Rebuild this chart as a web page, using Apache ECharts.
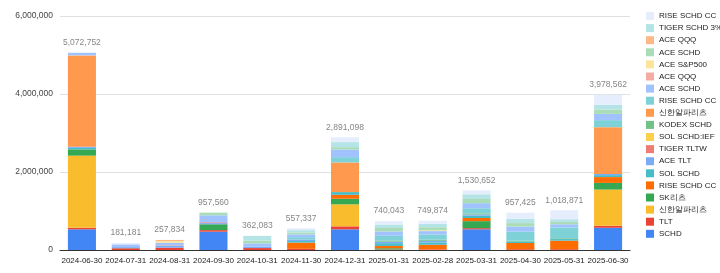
<!DOCTYPE html>
<html>
<head>
<meta charset="utf-8">
<script src="https://cdn.jsdelivr.net/npm/echarts@6/dist/echarts.min.js"></script>
<style>
  html, body { margin: 0; padding: 0; background: #fff; }
  #mainChart { width: 720px; height: 273px; }
</style>
</head>
<body>
<div id="mainChart"></div>
<script>
    /* 날짜 (x축) */
    var dates = ['2024-06-30', '2024-07-31', '2024-08-31', '2024-09-30', '2024-10-31', '2024-11-30', '2024-12-31',
        '2025-01-31', '2025-02-28', '2025-03-31', '2025-04-30', '2025-05-31', '2025-06-30'];

    /* y축 눈금 */
    var yTicks = [0, 2000000, 4000000, 6000000];

    /* 종목별 값 (아래에서 위로 쌓이는 순서) */
    var schd       = [530000, 0, 0, 470000, 0, 0, 530000, 0, 0, 530000, 0, 0, 570000];
    var tlt        = [40000, 45000, 60000, 40000, 50000, 30000, 77000, 15000, 15000, 30000, 20000, 20000, 50000];
    var shinhan    = [1850000, 0, 0, 0, 0, 0, 564000, 0, 0, 0, 0, 0, 930000];
    var skReit     = [160000, 0, 0, 150000, 0, 0, 144000, 30000, 0, 180000, 0, 0, 170000];
    var riseCc     = [0, 0, 0, 0, 0, 160000, 100000, 60000, 120000, 80000, 160000, 220000, 150000];
    var solSchd    = [40000, 10000, 0, 0, 0, 40000, 70000, 70000, 60000, 60000, 40000, 40000, 50000];
    var aceTlt     = [30000, 40000, 50000, 30000, 40000, 40000, 0, 40000, 40000, 30000, 0, 0, 30000];
    var tigerTltw  = [0, 0, 10000, 20000, 0, 0, 0, 0, 0, 0, 0, 0, 0];
    var solSchdIef = [0, 0, 0, 0, 0, 0, 0, 0, 0, 0, 0, 0, 0];
    var kodexSchd  = [0, 0, 0, 0, 0, 0, 0, 30000, 30000, 30000, 20000, 20000, 0];
    var shinhan2   = [2340000, 0, 0, 0, 0, 0, 760000, 0, 0, 0, 0, 0, 1200000];
    var riseCc2    = [0, 0, 0, 0, 0, 60000, 136000, 120000, 130000, 130000, 230000, 280000, 180000];
    var aceSchd    = [62752, 50000, 70000, 180000, 80000, 70000, 197000, 110000, 90000, 130000, 130000, 80000, 160000];
    var aceQqq     = [0, 0, 0, 0, 0, 0, 0, 0, 0, 0, 0, 0, 0];
    var aceSp500   = [0, 0, 40000, 0, 0, 0, 0, 0, 20000, 0, 0, 0, 0];
    var aceSchd2   = [0, 0, 0, 67560, 70000, 50000, 60000, 90000, 80000, 110000, 90000, 60000, 110000];
    var aceQqq2    = [0, 0, 27834, 0, 0, 0, 0, 0, 0, 0, 0, 0, 0];
    var tigerSchd3 = [0, 0, 0, 0, 122083, 60000, 128000, 90000, 90000, 120000, 110000, 70000, 120000];
    var riseCc3    = [20000, 36181, 0, 0, 0, 47337, 125098, 85043, 74874, 100652, 157425, 228871, 258562];

    /* 이름이 겹치는 종목은 #뒤 번호로 구분 (범례에서는 잘라냄) */
    var seriesList = [
        {name: 'SCHD', data: schd, color: '#4285f4'},
        {name: 'TLT', data: tlt, color: '#ea4335'},
        {name: '신한알파리츠', data: shinhan, color: '#f9bc2c'},
        {name: 'SK리츠', data: skReit, color: '#34a853'},
        {name: 'RISE SCHD CC', data: riseCc, color: '#ff6d01'},
        {name: 'SOL SCHD', data: solSchd, color: '#46bdc6'},
        {name: 'ACE TLT', data: aceTlt, color: '#7baaf7'},
        {name: 'TIGER TLTW', data: tigerTltw, color: '#f07b72'},
        {name: 'SOL SCHD:IEF', data: solSchdIef, color: '#fcd04f'},
        {name: 'KODEX SCHD', data: kodexSchd, color: '#71c287'},
        {name: '신한알파리츠#2', data: shinhan2, color: '#ff994d'},
        {name: 'RISE SCHD CC#2', data: riseCc2, color: '#7ed1d7'},
        {name: 'ACE SCHD', data: aceSchd, color: '#a0c3ff'},
        {name: 'ACE QQQ', data: aceQqq, color: '#f5aaa4'},
        {name: 'ACE S&P500', data: aceSp500, color: '#fde49b'},
        {name: 'ACE SCHD#2', data: aceSchd2, color: '#aadcb7'},
        {name: 'ACE QQQ#2', data: aceQqq2, color: '#ffb887'},
        {name: 'TIGER SCHD 3%', data: tigerSchd3, color: '#b5e4e7'},
        {name: 'RISE SCHD CC#3', data: riseCc3, color: '#e6eefd'}
    ];

    var fontFam = 'Arial, "Liberation Sans", sans-serif';

    /* 합계 (막대 위 라벨) */
    var totals = [];
    for (var i = 0; i < dates.length; i++) {
        var sum = 0;
        for (var j = 0; j < seriesList.length; j++) {
            sum += seriesList[j].data[i];
        }
        totals.push(sum);
    }

    var series = [];
    var legendNames = [];
    for (var k = 0; k < seriesList.length; k++) {
        series.push({
            name: seriesList[k].name,
            type: 'bar',
            stack: 'total',
            barWidth: '64%',
            itemStyle: {color: seriesList[k].color},
            data: seriesList[k].data
        });
        legendNames.unshift(seriesList[k].name);
    }
    series.push({
        name: 'total',
        type: 'scatter',
        symbolSize: 1,
        itemStyle: {color: 'rgba(0,0,0,0)'},
        label: {
            show: true,
            position: 'top',
            distance: 5,
            color: '#666',
            fontSize: 8.5,
            fontFamily: fontFam,
            formatter: function (p) { return p.value.toLocaleString('en-US'); }
        },
        silent: true,
        data: totals
    });

    var chart = echarts.init(document.getElementById('mainChart'));
    var option = {
        animation: false,
        textStyle: {fontFamily: fontFam},
        grid: {left: 60, right: 90, top: 16, bottom: 23},
        legend: {
            orient: 'vertical',
            left: 641,
            top: 7,
            itemWidth: 8,
            itemHeight: 8,
            itemGap: 4.1,
            icon: 'rect',
            data: legendNames,
            formatter: function (name) { return name.split('#')[0]; },
            textStyle: {fontSize: 8, color: '#222', fontFamily: fontFam}
        },
        xAxis: {
            type: 'category',
            data: dates,
            axisTick: {show: false},
            axisLine: {lineStyle: {color: '#333'}},
            axisLabel: {fontSize: 8, color: '#222', margin: 7, interval: 0}
        },
        yAxis: {
            type: 'value',
            min: yTicks[0],
            max: yTicks[yTicks.length - 1],
            interval: yTicks[1] - yTicks[0],
            axisLabel: {
                fontSize: 8.5, color: '#444', margin: 7,
                formatter: function (v) { return v.toLocaleString('en-US'); }
            },
            splitLine: {lineStyle: {color: '#e0e0e0'}}
        },
        series: series
    };
    chart.setOption(option);
</script>
</body>
</html>
